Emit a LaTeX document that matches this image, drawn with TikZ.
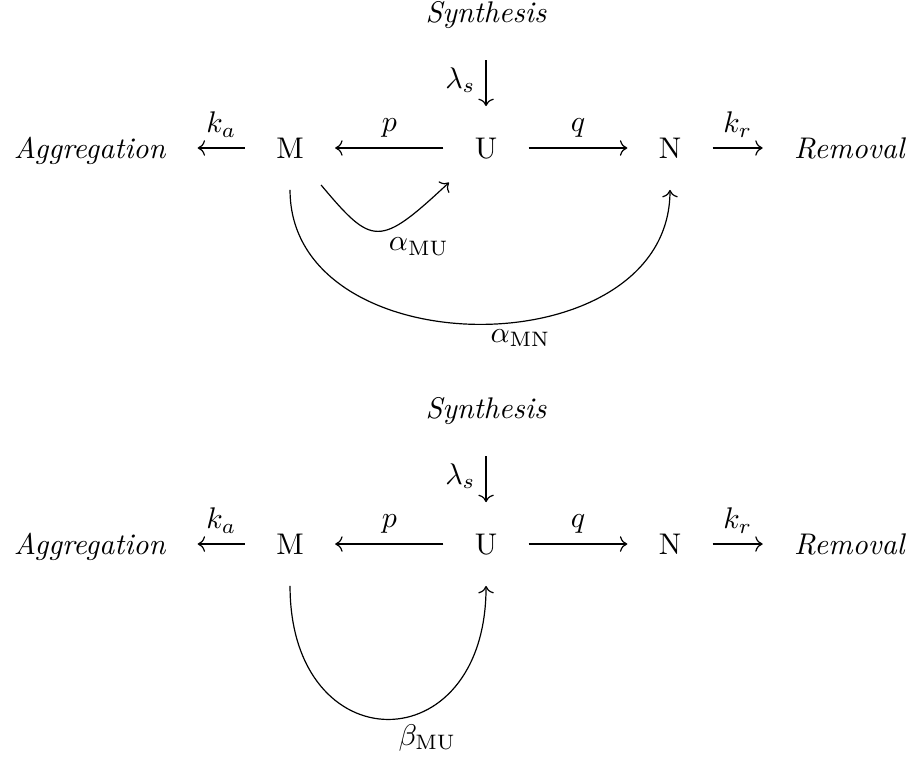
\documentclass[tikz,border=0pt]{standalone}
\usepackage{amsmath}
\usepackage{tikz}
\usetikzlibrary{arrows.meta}

\begin{document}
\begin{tikzpicture}[
  species/.style={inner sep=3.33pt, text height=7pt, text depth=0pt},
  arr/.style={-{To}, shorten >=7pt, shorten <=7pt},
  ratelabel/.style={above},
  looplabel/.style={below right}
]
\useasboundingbox (0,0) rectangle (10.729,-9.035);

%% ==== Scheme with alpha transitions ====
\node[species] (S1) at (5.718,-0.147) {\textit{Synthesis}};
\node[species] (A1) at (1.059,-1.741) {\textit{Aggregation}};
\node[species] (M1) at (3.412,-1.741) {M};
\node[species] (U1) at (5.718,-1.741) {U};
\node[species] (N1) at (7.882,-1.741) {N};
\node[species] (R1) at (10.0, -1.741) {\textit{Removal}};

%% ==== Scheme with beta transition ====
\node[species] (S2) at (5.718,-4.806) {\textit{Synthesis}};
\node[species] (A2) at (1.059,-6.400) {\textit{Aggregation}};
\node[species] (M2) at (3.412,-6.400) {M};
\node[species] (U2) at (5.718,-6.400) {U};
\node[species] (N2) at (7.882,-6.400) {N};
\node[species] (R2) at (10.0, -6.400) {\textit{Removal}};

%% ==== Rate arrows ====
\foreach \a/\b/\r in {M1/A1/k_a, U1/M1/p, U1/N1/q, N1/R1/k_r,
                      M2/A2/k_a, U2/M2/p, U2/N2/q, N2/R2/k_r}
  \draw[arr] (\a) -- node[ratelabel] {$\r$} (\b);

%% ==== Synthesis inflow ====
\foreach \s/\u in {S1/U1, S2/U2}
  \draw[arr, shorten <=9pt] (\s) -- node[left] {$\lambda_s$} (\u);

%% ==== Transitions below the chain ====
\draw[arr] (M1) to[out=-50, in=-137, out looseness=1.65, in looseness=1.9]
  node[looplabel] {$\alpha_{\mathrm{MU}}$} (U1);
\draw[arr] (M1) to[out=-90, in=-90, looseness=1.35]
  node[looplabel] {$\alpha_{\mathrm{MN}}$} (N1);
\draw[arr] (M2) to[out=-90, in=-90, looseness=2.6]
  node[looplabel] {$\beta_{\mathrm{MU}}$} (U2);

\end{tikzpicture}
\end{document}
